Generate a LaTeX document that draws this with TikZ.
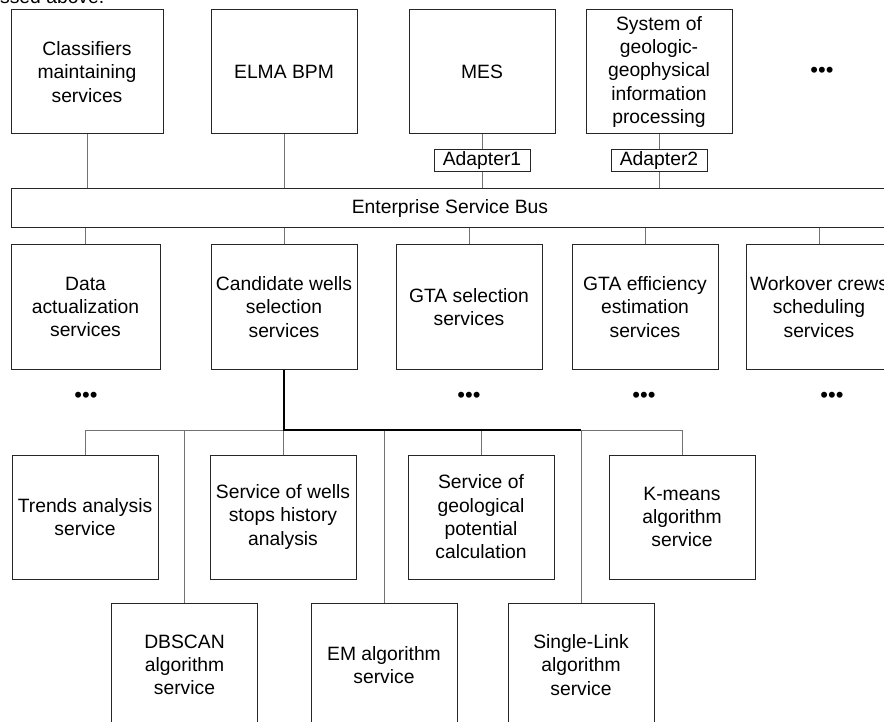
\documentclass[tikz,border=0pt]{standalone}
\usepackage{fontspec}
\setmainfont{Liberation Sans}
\usetikzlibrary{positioning}

\begin{document}
\begin{tikzpicture}[x=1pt,y=-1pt,
		box/.style={draw=black!85, line width=1pt, minimum width=146pt, minimum height=124pt, inner sep=0pt, align=center, font=\fontsize{19.3}{23.3}\selectfont},
		adapter/.style={draw=black!85, line width=1pt, minimum width=96pt, minimum height=22pt, inner sep=0pt, font=\fontsize{19.3}{23.3}\selectfont},
		link/.style={draw=black!55, line width=1pt},
		more/.style={inner sep=0pt, font=\fontsize{22}{24}\selectfont}]
		\useasboundingbox (0,0) rectangle (884,722);
		\clip (0,0) rectangle (884,722);
		\node[inner sep=0pt, font=\fontsize{19.3}{23.3}\selectfont, anchor=base west] (cut) at (0,4) {ssed above.};
		
		% upper systems
		\draw (87,72) node[box, minimum width=152pt] (t1) {Classifiers\\maintaining\\services}
		(284,72) node[box] (t2) {ELMA BPM}
		(482,72) node[box] (t3) {MES}
		(659,72) node[box] (t4) {System of\\geologic-\\geophysical\\information\\processing}
		(822,72) node[more] (d0) {•••};
		\draw (482,161) node[adapter] (a1) {Adapter1}
		(659,161) node[adapter] (a2) {Adapter2};
		\draw (450,208.5) node[box, minimum width=878pt, minimum height=39pt] (bus) {Enterprise Service Bus};
		
		% services
		\draw (85.5,307) node[box, minimum width=149pt] (s1) {Data\\actualization\\services}
		(284,307) node[box] (s2) {Candidate wells\\selection\\services}
		(469,307) node[box] (s3) {GTA selection\\services}
		(645,307) node[box] (s4) {GTA efficiency\\estimation\\services}
		(819,307) node[box] (s5) {Workover crews\\scheduling\\services};
		\draw (86,397) node[more] (d1) {•••}
		(469,397) node[more] (d3) {•••}
		(644,397) node[more] (d4) {•••}
		(832,397) node[more] (d5) {•••};
		
		% methods
		\draw (85,517) node[box] (m1) {Trends analysis\\service}
		(283,517) node[box] (m2) {Service of wells\\stops history\\analysis}
		(481,517) node[box] (m3) {Service of\\geological\\potential\\calculation}
		(682,517) node[box] (m4) {K-means\\algorithm\\service}
		(184.5,665) node[box] (n1) {DBSCAN\\algorithm\\service}
		(384,665) node[box] (n2) {EM algorithm\\service}
		(581,665) node[box] (n3) {Single-Link\\algorithm\\service};
		\coordinate (j) at (284,430);
		
		\draw[link] (t1) -- (t1 |- bus.north);
		\draw[link] (t2) -- (t2 |- bus.north);
		\draw[link] (t3) -- (a1);
		\draw[link] (a1) -- (a1 |- bus.north);
		\draw[link] (t4) -- (a2);
		\draw[link] (a2) -- (a2 |- bus.north);
		\draw[link] (s1) -- (s1 |- bus.south);
		\draw[link] (s2) -- (s2 |- bus.south);
		\draw[link] (s3) -- (s3 |- bus.south);
		\draw[link] (s4) -- (s4 |- bus.south);
		\draw[link] (s5) -- (s5 |- bus.south);
		\draw[link] (j) -| (m1);
		\draw[link] (j) -| (m2);
		\draw[link] (j) -| (m3);
		\draw[link] (j) -| (m4);
		\draw[link] (j) -| (n1);
		\draw[link] (j) -| (n2);
		\draw[link] (j) -| (n3);
		\draw[line width=1.2pt] (s2) -- (j) -- (j -| n3);
	\end{tikzpicture}
\end{document}
